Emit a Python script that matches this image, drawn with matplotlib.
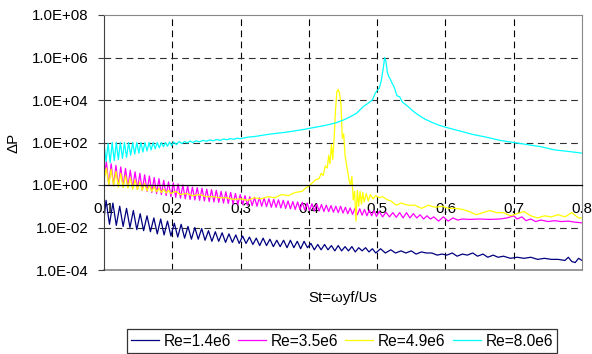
import matplotlib
matplotlib.use("Agg")
import matplotlib.pyplot as plt
import numpy as np
from matplotlib.ticker import FixedLocator, FuncFormatter

plt.rcParams['font.family'] = ['Liberation Sans', 'DejaVu Sans']

# ---------------- data (log10 of ΔP) ----------------
re14_st = [0.100, 0.103, 0.108, 0.113, 0.118, 0.123, 0.128, 0.133, 0.138, 0.143, 0.148, 0.153, 0.158, 0.163,
           0.168, 0.173, 0.178, 0.183, 0.188, 0.193, 0.198, 0.203, 0.208, 0.213, 0.218, 0.223, 0.228, 0.233,
           0.238, 0.243, 0.248, 0.253, 0.258, 0.263, 0.268, 0.273, 0.278, 0.283, 0.288, 0.293, 0.298, 0.303,
           0.308, 0.313, 0.318, 0.323, 0.328, 0.333, 0.338, 0.343, 0.348, 0.353, 0.358, 0.363, 0.368, 0.373,
           0.378, 0.383, 0.388, 0.393, 0.398, 0.403, 0.408, 0.413, 0.418, 0.423, 0.428, 0.433, 0.438, 0.443,
           0.448, 0.453, 0.458, 0.463, 0.468, 0.473, 0.478, 0.483, 0.488, 0.493, 0.498, 0.505, 0.512, 0.520,
           0.527, 0.535, 0.542, 0.550, 0.557, 0.565, 0.572, 0.580, 0.588, 0.595, 0.602, 0.610, 0.617, 0.625,
           0.632, 0.640, 0.647, 0.655, 0.662, 0.670, 0.677, 0.685, 0.695, 0.705, 0.715, 0.725, 0.735, 0.745,
           0.755, 0.765, 0.775, 0.780, 0.785, 0.790, 0.795, 0.800]
re14_log = [-1.6, -0.72, -1.85, -0.85, -1.9, -1.0, -1.95, -1.1, -2.0, -1.2, -2.1, -1.35, -2.15, -1.45,
            -2.2, -1.55, -2.3, -1.6, -2.35, -1.7, -2.4, -1.8, -2.45, -1.85, -2.5, -1.95, -2.55, -2.0,
            -2.55, -2.05, -2.6, -2.15, -2.65, -2.2, -2.65, -2.25, -2.7, -2.3, -2.7, -2.35, -2.75, -2.4,
            -2.75, -2.45, -2.8, -2.5, -2.85, -2.5, -2.85, -2.55, -2.9, -2.6, -2.9, -2.6, -2.95, -2.6,
            -2.95, -2.65, -3.0, -2.65, -2.95, -2.75, -3.05, -2.8, -3.05, -2.8, -3.05, -2.85, -3.1, -2.85,
            -3.1, -2.9, -3.1, -2.9, -3.15, -2.95, -3.1, -2.95, -3.15, -3.0, -3.2, -3.0, -3.2, -3.05,
            -3.2, -3.1, -3.2, -3.1, -3.25, -3.15, -3.2, -3.2, -3.3, -3.25, -3.3, -3.2, -3.35, -3.25,
            -3.3, -3.2, -3.35, -3.25, -3.4, -3.3, -3.4, -3.35, -3.45, -3.4, -3.45, -3.4, -3.5, -3.45,
            -3.5, -3.5, -3.55, -3.4, -3.6, -3.65, -3.45, -3.55]

re35_st = [0.100, 0.1035, 0.107, 0.1105, 0.114, 0.1175, 0.121, 0.1245, 0.128, 0.1315, 0.135, 0.1385,
           0.142, 0.1455, 0.149, 0.1525, 0.156, 0.1595, 0.163, 0.1665, 0.170, 0.1735, 0.177, 0.1805,
           0.184, 0.1875, 0.191, 0.1945, 0.198, 0.2015, 0.205, 0.2085, 0.212, 0.2155, 0.219, 0.2225,
           0.226, 0.2295, 0.233, 0.2365, 0.240, 0.2435, 0.247, 0.2505, 0.254, 0.2575, 0.261, 0.2645,
           0.268, 0.2715, 0.275, 0.2785, 0.282, 0.2855, 0.289, 0.2925, 0.296, 0.2995, 0.303, 0.3065,
           0.310, 0.3135, 0.317, 0.3205, 0.324, 0.3275, 0.331, 0.3345, 0.338, 0.3415, 0.345, 0.3485,
           0.352, 0.3555, 0.359, 0.3625, 0.366, 0.3695, 0.373, 0.3765, 0.380, 0.3835, 0.387, 0.3905,
           0.394, 0.3975, 0.401, 0.4045, 0.408, 0.4115, 0.415, 0.4185, 0.422, 0.4255, 0.429, 0.4325,
           0.436, 0.4395, 0.443, 0.4465, 0.450, 0.4535, 0.457, 0.4605, 0.464, 0.4675, 0.471, 0.4745,
           0.478, 0.4815, 0.485, 0.4885, 0.492, 0.4955, 0.499, 0.503, 0.508, 0.513, 0.518, 0.523,
           0.528, 0.533, 0.538, 0.543, 0.548, 0.553, 0.558, 0.563, 0.568, 0.573, 0.578, 0.583,
           0.590, 0.597, 0.604, 0.611, 0.618, 0.625, 0.635, 0.650, 0.665, 0.680, 0.690, 0.700,
           0.705, 0.712, 0.718, 0.725, 0.732, 0.740, 0.750, 0.760, 0.770, 0.780, 0.790, 0.800]
re35_log = [0.3, 1.1, 0.0, 1.0, -0.02, 0.92, -0.05, 0.85, -0.08, 0.78, -0.1, 0.7,
            -0.15, 0.62, -0.2, 0.55, -0.25, 0.48, -0.3, 0.42, -0.35, 0.35, -0.4, 0.3,
            -0.45, 0.22, -0.5, 0.15, -0.55, 0.1, -0.58, 0.05, -0.62, 0.0, -0.65, -0.05,
            -0.68, -0.1, -0.7, -0.12, -0.72, -0.15, -0.75, -0.2, -0.78, -0.22, -0.8, -0.25,
            -0.82, -0.3, -0.85, -0.32, -0.87, -0.35, -0.9, -0.4, -0.92, -0.45, -0.93, -0.5,
            -0.95, -0.55, -0.97, -0.58, -1.0, -0.6, -1.0, -0.62, -1.02, -0.65, -1.05, -0.68,
            -1.05, -0.7, -1.08, -0.72, -1.1, -0.75, -1.12, -0.78, -1.15, -0.8, -1.15, -0.82,
            -1.18, -0.85, -1.2, -0.88, -1.22, -0.9, -1.22, -0.92, -1.25, -0.95, -1.25, -0.97,
            -1.28, -1.0, -1.3, -1.0, -1.32, -1.05, -1.35, -1.08, -1.38, -1.1, -1.4, -1.12,
            -1.42, -1.15, -1.45, -1.18, -1.45, -1.2, -1.48, -1.25, -1.5, -1.28, -1.5, -1.3,
            -1.52, -1.3, -1.55, -1.3, -1.55, -1.35, -1.55, -1.4, -1.6, -1.45, -1.6, -1.5,
            -1.7, -1.5, -1.7, -1.55, -1.65, -1.6, -1.62, -1.6, -1.62, -1.6, -1.55, -1.45,
            -1.6, -1.5, -1.68, -1.6, -1.72, -1.65, -1.72, -1.68, -1.72, -1.7, -1.75, -1.78]

re49_st = [0.100, 0.1035, 0.107, 0.1105, 0.114, 0.1175, 0.121, 0.1245, 0.128, 0.1315, 0.135, 0.1385,
           0.142, 0.1455, 0.149, 0.1525, 0.156, 0.1595, 0.163, 0.1665, 0.170, 0.1735, 0.177, 0.1805,
           0.184, 0.1875, 0.191, 0.1945, 0.198, 0.205, 0.212, 0.220, 0.230, 0.240, 0.250, 0.260,
           0.270, 0.280, 0.290, 0.300, 0.310, 0.320, 0.330, 0.340, 0.350, 0.360, 0.370, 0.380,
           0.390, 0.395, 0.400, 0.405, 0.410, 0.415, 0.418, 0.421, 0.424, 0.427, 0.429, 0.431,
           0.433, 0.435, 0.437, 0.439, 0.441, 0.443, 0.445, 0.447, 0.449, 0.451, 0.453, 0.455,
           0.457, 0.459, 0.461, 0.463, 0.465, 0.467, 0.469, 0.471, 0.473, 0.475, 0.477, 0.479,
           0.481, 0.484, 0.487, 0.490, 0.494, 0.498, 0.503, 0.508, 0.515, 0.520, 0.528, 0.535,
           0.545, 0.555, 0.565, 0.575, 0.585, 0.595, 0.605, 0.615, 0.625, 0.635, 0.645, 0.655,
           0.665, 0.675, 0.685, 0.695, 0.705, 0.715, 0.725, 0.735, 0.745, 0.755, 0.765, 0.775,
           0.785, 0.795, 0.800]
re49_log = [0.2, 0.8, 0.0, 0.75, -0.05, 0.65, -0.1, 0.55, -0.12, 0.45, -0.15, 0.35,
            -0.2, 0.25, -0.22, 0.15, -0.25, 0.08, -0.28, 0.0, -0.3, -0.08, -0.32, -0.15,
            -0.35, -0.2, -0.38, -0.25, -0.4, -0.3, -0.45, -0.4, -0.5, -0.45, -0.55, -0.55,
            -0.6, -0.6, -0.68, -0.65, -0.72, -0.6, -0.65, -0.55, -0.6, -0.45, -0.5, -0.35,
            -0.3, -0.15, -0.05, 0.1, 0.25, 0.3, 0.55, 0.45, 0.9, 0.8, 1.4, 1.0,
            1.9, 1.2, 2.2, 3.5, 4.4, 4.5, 4.3, 3.8, 2.2, 2.4, 1.4, 1.0,
            0.6, 0.2, 0.0, 0.4, -0.7, -0.3, -1.7, -0.25, -1.0, -0.3, -0.9, -0.35,
            -0.8, -0.4, -0.75, -0.45, -0.65, -0.5, -0.6, -0.55, -0.7, -0.75, -0.95, -0.85,
            -0.95, -0.95, -1.1, -0.95, -1.05, -1.0, -1.1, -1.1, -1.15, -1.25, -1.4, -1.3,
            -1.2, -1.3, -1.3, -1.45, -1.35, -1.25, -1.45, -1.55, -1.45, -1.5, -1.4, -1.5,
            -1.3, -1.55, -1.55]

re80_st = [0.100, 0.103, 0.106, 0.109, 0.112, 0.115, 0.118, 0.121, 0.124, 0.127, 0.130, 0.133,
           0.136, 0.139, 0.142, 0.145, 0.148, 0.151, 0.154, 0.157, 0.160, 0.163, 0.166, 0.169,
           0.172, 0.175, 0.178, 0.181, 0.184, 0.187, 0.190, 0.193, 0.196, 0.199, 0.202, 0.206,
           0.210, 0.214, 0.218, 0.222, 0.226, 0.230, 0.235, 0.240, 0.245, 0.250, 0.255, 0.260,
           0.265, 0.270, 0.275, 0.280, 0.285, 0.290, 0.295, 0.300, 0.310, 0.320, 0.330, 0.340,
           0.350, 0.360, 0.370, 0.380, 0.390, 0.400, 0.410, 0.420, 0.430, 0.440, 0.450, 0.460,
           0.470, 0.480, 0.487, 0.493, 0.497, 0.500, 0.503, 0.506, 0.509, 0.511, 0.513, 0.515,
           0.517, 0.519, 0.521, 0.525, 0.529, 0.533, 0.537, 0.541, 0.545, 0.550, 0.555, 0.560,
           0.570, 0.580, 0.590, 0.600, 0.620, 0.640, 0.660, 0.680, 0.700, 0.720, 0.740, 0.760,
           0.780, 0.800]
re80_log = [2.0, 1.1, 1.95, 1.05, 2.0, 1.15, 2.0, 1.2, 2.0, 1.25, 2.0, 1.3,
            2.0, 1.4, 2.0, 1.45, 2.0, 1.5, 2.0, 1.55, 2.0, 1.6, 2.0, 1.65,
            2.0, 1.7, 2.0, 1.75, 2.0, 1.8, 2.0, 1.82, 2.02, 1.85, 2.03, 1.9,
            2.05, 1.95, 2.05, 1.98, 2.07, 2.0, 2.08, 2.03, 2.1, 2.06, 2.12, 2.08,
            2.14, 2.1, 2.16, 2.13, 2.18, 2.15, 2.2, 2.18, 2.25, 2.28, 2.33, 2.38,
            2.42, 2.46, 2.5, 2.55, 2.6, 2.66, 2.72, 2.78, 2.85, 2.93, 3.05, 3.2,
            3.38, 3.7, 3.85, 4.0, 4.3, 4.45, 4.55, 4.9, 5.5, 6.0, 5.8, 5.3,
            5.1, 5.0, 4.85, 4.6, 4.2, 4.15, 3.9, 3.8, 3.7, 3.55, 3.42, 3.3,
            3.1, 2.95, 2.82, 2.72, 2.55, 2.38, 2.25, 2.1, 2.0, 1.9, 1.8, 1.65,
            1.58, 1.5]

series_names = ["Re=1.4e6", "Re=3.5e6", "Re=4.9e6", "Re=8.0e6"]
series_st = [re14_st, re35_st, re49_st, re80_st]
series_log = [re14_log, re35_log, re49_log, re80_log]
series_colors = ["#000080", "#FF00FF", "#FFFF00", "#00FFFF"]

x_ticks = [0.1, 0.2, 0.3, 0.4, 0.5, 0.6, 0.7, 0.8]
y_ticks = [1e-4, 1e-2, 1e0, 1e2, 1e4, 1e6, 1e8]

# ---------------- figure ----------------
W, H = 592, 354
fig = plt.figure(figsize=(W / 100, H / 100), dpi=100)
ax = fig.add_axes([104 / W, 1 - 270 / H, (582 - 104) / W, (270 - 15) / H])

for st, lg, c, name in zip(series_st, series_log, series_colors, series_names):
    ax.plot(st, 10 ** np.array(lg), color=c, lw=0.9, label=name)

ax.set_yscale('log')
ax.set_xlim(0.1, 0.8)
ax.set_ylim(1e-4, 1e8)

ax.yaxis.set_major_locator(FixedLocator(y_ticks))
ax.yaxis.set_minor_locator(FixedLocator([]))
ax.yaxis.set_major_formatter(FuncFormatter(
    lambda v, p: "1.0E{:+03d}".format(int(round(np.log10(v))))))
ax.xaxis.set_major_locator(FixedLocator(x_ticks))
ax.xaxis.set_major_formatter(FuncFormatter(lambda v, p: "{:.1f}".format(v)))

ax.tick_params(axis='y', direction='out', length=4, width=0.8, pad=7,
               labelsize=10.8, color='#404040')
ax.tick_params(axis='x', length=0, pad=12, labelsize=10.8)

# grid
dash = (0, (6, 4))
for xv in x_ticks[1:-1]:
    ax.axvline(xv, color='black', lw=0.8, linestyle=dash, zorder=0.5)
for yv in [1e-2, 1e2, 1e4, 1e6]:
    ax.axhline(yv, color='#303030', lw=0.8, linestyle=dash, zorder=0.5)

# spines
ax.spines['bottom'].set_position(('data', 1.0))
ax.spines['bottom'].set_color('black')
ax.spines['bottom'].set_linewidth(0.9)
ax.spines['left'].set_color('#404040')
ax.spines['top'].set_color('#888888')
ax.spines['right'].set_color('#888888')
ax.axhline(1e-4, color='#888888', lw=1.2, zorder=0.6, clip_on=False)

ax.set_ylabel("ΔP", fontsize=10.8, labelpad=8)
fig.text(343 / W, 1 - 298 / H, "St=ωyf/Us", fontsize=10.8, ha='center', va='center')

leg = fig.legend(loc='center', bbox_to_anchor=(342 / W, 1 - 341 / H), ncol=4,
                 fontsize=11.2, frameon=True, fancybox=False, edgecolor='black',
                 handlelength=1.8, handletextpad=0.3, columnspacing=0.45,
                 borderpad=0.3, borderaxespad=0)
leg.get_frame().set_linewidth(0.9)

fig.savefig("out.png", dpi=100)
